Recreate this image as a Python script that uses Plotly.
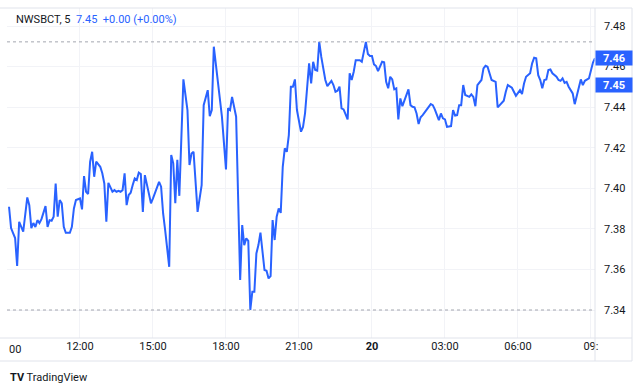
import pandas as pd
import plotly.graph_objects as go

symbol = "NWSBCT, 5"
legend_values = "7.45  +0.00 (+0.00%)"
start_time = "2025-03-19 09:00"
bar_minutes = 5

bars = [1,2,3,4,5,6,8,9,10,11,12,13,14,15,16,17,18,19,20,21,22,23,24,25,26,27,28,29,31,32,33,34,36,37,38,39,40,41,42,43,44,46,47,48,49,50,
        52,53,54,55,56,57,58,59,60,61,62,63,64,65,66,67,68,69,70,71,72,75,76,77,78,80,81,82,83,84,85,87,89,90,91,92,94,96,97,99,100,101,102,104,106,
        108,109,110,111,113,115,116,117,118,119,120,121,122,123,124,125,127,128,129,130,131,132,133,134,135,136,137,138,139,140,141,142,143,144,145,146,147,
        149,150,151,152,153,154,155,157,158,160,161,162,163,164,165,166,168,169,170,171,172,174,175,176,177,178,179,180,181,182,183,185,186,187,188,189,190,
        191,192,193,194,195,197,198,199,200,201,202,203,204,205,207,208,209,210,211,213,214,215,216,217,219,220,221,222,223,224,225,226,228,229,230,231,232,
        234,235,236,237,239,240,241,242,243,245,246,247,249,250,251,253,254,255,256,258,259,260,261,262,263,264,265,266,267,268,269,271,272,273,274,275,276,
        277,279,280,281,283,284,285,287,288,289,290]

prices = [7.3909,7.3804,7.3779,7.3755,7.3617,7.3835,7.3786,7.3868,7.3955,7.3917,7.3804,7.3829,7.3809,7.3843,7.3829,7.3848,7.3884,7.3912,7.3810,7.3843,
          7.3840,7.3860,7.4024,7.3860,7.3942,7.3926,7.3810,7.3781,7.3781,7.3810,7.3901,7.3942,7.3950,7.3896,7.4060,7.3983,7.3972,7.4131,7.4180,7.4057,
          7.4131,7.4106,7.4074,7.4024,7.3835,7.4027,
          7.3983,7.3991,7.3983,7.3988,7.3983,7.3991,7.4074,7.3917,7.3967,7.3978,7.4016,7.4049,7.4041,7.4077,7.4070,7.3884,7.4065,7.4016,7.3967,7.3926,
          7.3950,7.4032,7.4008,7.3876,7.3794,7.3613,7.4164,7.4123,7.3926,7.4140,7.3963,7.4537,7.4386,7.4115,7.4172,7.4180,7.3884,7.4016,7.4410,7.4484,
          7.4356,7.4386,7.4698,7.4517,7.4353,
          7.4093,7.4394,7.4386,7.4451,7.4353,7.3548,7.3819,7.3720,7.3753,7.3741,7.3400,7.3490,7.3490,7.3679,7.3720,7.3781,7.3597,7.3593,7.3556,7.3567,
          7.3843,7.3745,7.3860,7.3901,7.3879,7.4106,7.4197,7.4180,7.4262,7.4501,7.4501,7.4537,7.4386,7.4328,7.4279,7.4303,7.4371,
          7.4616,7.4517,7.4624,7.4583,7.4580,7.4722,7.4648,7.4534,7.4504,7.4530,7.4509,7.4476,7.4481,7.4501,7.4394,7.4389,7.4340,7.4567,7.4534,7.4575,
          7.4632,7.4632,7.4624,7.4673,7.4722,7.4662,7.4652,7.4652,7.4611,7.4603,7.4578,7.4624,7.4621,7.4525,7.4493,7.4550,7.4537,
          7.4488,7.4493,7.4340,7.4443,7.4405,7.4468,7.4488,7.4410,7.4402,7.4399,7.4369,7.4317,7.4350,7.4361,7.4386,7.4397,7.4415,7.4410,7.4389,7.4336,
          7.4369,7.4345,7.4340,7.4303,7.4307,7.4386,7.4359,7.4361,7.4410,7.4410,7.4509,7.4460,7.4451,7.4463,7.4451,7.4405,7.4509,
          7.4534,7.4591,7.4604,7.4599,7.4534,7.4530,7.4525,7.4399,7.4410,7.4432,7.4476,7.4509,7.4496,7.4476,7.4456,7.4484,7.4465,7.4517,7.4550,7.4567,
          7.4616,7.4644,7.4641,7.4558,7.4534,7.4493,7.4534,7.4537,7.4583,7.4586,7.4567,7.4550,7.4534,7.4530,7.4542,7.4520,7.4525,
          7.4501,7.4468,7.4415,7.4460,7.4537,7.4509,7.4530,7.4542,7.4583,7.4620,7.4641]

y_ticks = [7.34, 7.36, 7.38, 7.40, 7.42, 7.44, 7.46, 7.48]
x_tick_hours = [3, 6, 9, 12, 15, 18, 21, 24]
x_tick_labels = ["12:00", "15:00", "18:00", "21:00", "<b>20</b>", "03:00", "06:00", "09:"]
second_badge_value = 7.451
second_badge_text = "7.45"

BLUE = "#2962ff"
GRID = "#f2f3f7"
BORDER = "#e0e3eb"
TEXT = "#131722"
FONT = "Roboto"

t0 = pd.Timestamp(start_time)
times = [t0 + pd.Timedelta(minutes=bar_minutes * b) for b in bars]
tickvals = [t0 + pd.Timedelta(hours=h) for h in x_tick_hours]
x_end = t0 + pd.Timedelta(minutes=bar_minutes * 290)

fig = go.Figure()
fig.add_trace(go.Scatter(x=times, y=prices, mode="lines",
                         line=dict(color=BLUE, width=2), hoverinfo="skip", showlegend=False))

hi = max(prices)
lo = min(prices)

W, H = 640, 391
ml, mr, mt, mb = 7, 45, 8, 53
pw = W - ml - mr
ph = H - mt - mb

def px(xp):
    return (xp - ml) / pw

def py(yp):
    return 1 - (yp - mt) / ph

shapes = []
# high / low dotted lines
for v in (hi, lo):
    shapes.append(dict(type="line", xref="paper", yref="y", x0=0, x1=1, y0=v, y1=v,
                       line=dict(color="#a3a6af", width=1, dash="dot")))
# frame lines
line_style = dict(color=BORDER, width=1)
shapes += [
    dict(type="line", xref="paper", yref="paper", x0=px(0), x1=px(632), y0=1, y1=1, line=line_style),
    dict(type="line", xref="paper", yref="paper", x0=px(0), x1=px(632), y0=0, y1=0, line=line_style),
    dict(type="line", xref="paper", yref="paper", x0=px(0), x1=px(632), y0=py(361), y1=py(361), line=line_style),
    dict(type="line", xref="paper", yref="paper", x0=1, x1=1, y0=py(361), y1=1, line=line_style),
    dict(type="line", xref="paper", yref="paper", x0=px(632), x1=px(632), y0=py(361), y1=1, line=line_style),
]

annotations = [
    dict(xref="paper", yref="paper", x=px(14), y=py(19), xanchor="left", yanchor="middle", showarrow=False,
         text=f"<span style='color:{TEXT}'>{symbol}</span>  <span style='color:{BLUE}'>{legend_values}</span>",
         font=dict(family=FONT, size=11)),
    dict(xref="paper", yref="paper", x=px(14.5), y=py(349), xanchor="center", yanchor="middle", showarrow=False,
         text="00", font=dict(family=FONT, size=11, color=TEXT)),
    dict(xref="paper", yref="y", x=1, y=prices[-1], xanchor="left", yanchor="middle", showarrow=False,
         text=f"<b>{prices[-1]:.2f}</b>", bgcolor=BLUE, width=34, height=12, borderpad=1,
         font=dict(family=FONT, size=11, color="white")),
    dict(xref="paper", yref="y", x=1, y=second_badge_value, xanchor="left", yanchor="middle", showarrow=False,
         text=f"<b>{second_badge_text}</b>", bgcolor=BLUE, width=34, height=12, borderpad=1,
         font=dict(family=FONT, size=11, color="white")),
    dict(xref="paper", yref="paper", x=px(8), y=py(377), xanchor="left", yanchor="middle", showarrow=False,
         text="<b>TV</b> TradingView", font=dict(family=FONT, size=11, color=TEXT)),
]

fig.update_layout(
    width=W, height=H,
    margin=dict(l=ml, r=mr, t=mt, b=mb),
    paper_bgcolor="white", plot_bgcolor="white",
    font=dict(family=FONT, size=11, color=TEXT),
    shapes=shapes, annotations=annotations,
    xaxis=dict(type="date", range=[t0, x_end], tickvals=tickvals, ticktext=x_tick_labels,
               showgrid=True, gridcolor=GRID, gridwidth=1, zeroline=False, showline=False,
               ticks="", tickfont=dict(family=FONT, size=11, color=TEXT), fixedrange=True),
    yaxis=dict(side="right", range=[7.3262, 7.4889], tickvals=y_ticks,
               ticktext=[f"{v:.2f}" for v in y_ticks],
               showgrid=True, gridcolor=GRID, gridwidth=1, zeroline=False, showline=False,
               ticks="", ticklabelstandoff=8, tickfont=dict(family=FONT, size=11, color=TEXT)),
)

fig.write_html("out.html")
